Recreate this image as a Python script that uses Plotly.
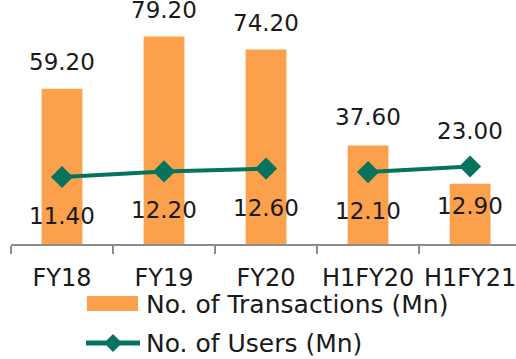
import plotly.graph_objects as go

# Data
periods = ["FY18", "FY19", "FY20", "H1FY20", "H1FY21"]
transactions = [59.20, 79.20, 74.20, 37.60, 23.00]
users = [11.40, 12.20, 12.60, 12.10, 12.90]
series_names = ["No. of Transactions (Mn)", "No. of Users (Mn)"]

BAR_COLOR = "#FBA14C"
LINE_COLOR = "#06735F"
TEXT_COLOR = "#1A1A1A"
FONT = "'DejaVu Sans', sans-serif"
FS_NUM = 23
FS_TICK = 24
FS_TXT = 25

W, H = 516, 359
M_L, M_R, M_T, M_B = 11, 0, 0, 115
PW, PH = W - M_L - M_R, H - M_T - M_B


def px_x(x):
    return (x - M_L) / PW


def px_y(y):
    return (H - M_B - y) / PH


fig = go.Figure()

fig.add_trace(go.Bar(
    x=periods, y=transactions, name=series_names[0],
    marker=dict(color=BAR_COLOR, line=dict(width=0)),
    width=0.4, showlegend=False,
))

# Users line: full-year and half-year segments drawn separately
for seg in (slice(0, 3), slice(3, 5)):
    fig.add_trace(go.Scatter(
        x=periods[seg], y=users[seg], name=series_names[1], yaxis="y2",
        mode="lines+markers",
        line=dict(color=LINE_COLOR, width=4),
        marker=dict(symbol="diamond", size=17, color=LINE_COLOR),
        showlegend=False, cliponaxis=False,
    ))

annotations = []
bar_shift = [27, 26, 27, 28, 53]
for p, v, s in zip(periods, transactions, bar_shift):
    annotations.append(dict(
        x=p, y=v, xref="x", yref="y", text=f"{v:.2f}", showarrow=False,
        yshift=s, font=dict(size=FS_NUM, color=TEXT_COLOR, family=FONT),
    ))
for p, v in zip(periods, users):
    annotations.append(dict(
        x=p, y=v, xref="x", yref="y2", text=f"{v:.2f}", showarrow=False,
        yshift=-39, font=dict(size=FS_NUM, color=TEXT_COLOR, family=FONT),
    ))

# Legend entries
shapes = [
    dict(type="rect", xref="paper", yref="paper",
         x0=px_x(87), x1=px_x(138), y0=px_y(311), y1=px_y(296),
         fillcolor=BAR_COLOR, line=dict(width=0)),
    dict(type="line", xref="paper", yref="paper",
         x0=px_x(86), x1=px_x(140), y0=px_y(343), y1=px_y(343),
         line=dict(color=LINE_COLOR, width=5)),
    dict(type="path", xref="paper", yref="paper",
         path=(f"M {px_x(104)} {px_y(343)} L {px_x(113)} {px_y(334)} "
               f"L {px_x(122)} {px_y(343)} L {px_x(113)} {px_y(352)} Z"),
         fillcolor=LINE_COLOR, line=dict(width=0)),
]
for name, yc in zip(series_names, [304, 343]):
    annotations.append(dict(
        x=px_x(144), y=px_y(yc), xref="paper", yref="paper", text=name,
        showarrow=False, xanchor="left", yanchor="middle",
        font=dict(size=FS_TXT, color=TEXT_COLOR, family=FONT),
    ))

fig.update_layout(
    width=W, height=H,
    margin=dict(l=M_L, r=M_R, t=M_T, b=M_B, autoexpand=False),
    paper_bgcolor="white", plot_bgcolor="white",
    font=dict(family=FONT, color=TEXT_COLOR, size=FS_TXT),
    bargap=0.6, showlegend=False,
    xaxis=dict(
        type="category", range=[-0.5, 4.45],
        showline=True, linecolor="#8C8C8C", linewidth=2,
        ticks="outside", tickson="boundaries", ticklen=8,
        tickcolor="#8C8C8C", tickwidth=2, tickangle=0, automargin=False,
        tickfont=dict(size=FS_TICK, color=TEXT_COLOR, family=FONT),
        ticklabelstandoff=11,
        showgrid=False, zeroline=False,
    ),
    yaxis=dict(range=[0, 93.1], visible=False, showgrid=False),
    yaxis2=dict(range=[1.83, 36.69], overlaying="y", side="right",
                visible=False, showgrid=False),
    annotations=annotations,
    shapes=shapes,
)

fig.write_html("out.html")
